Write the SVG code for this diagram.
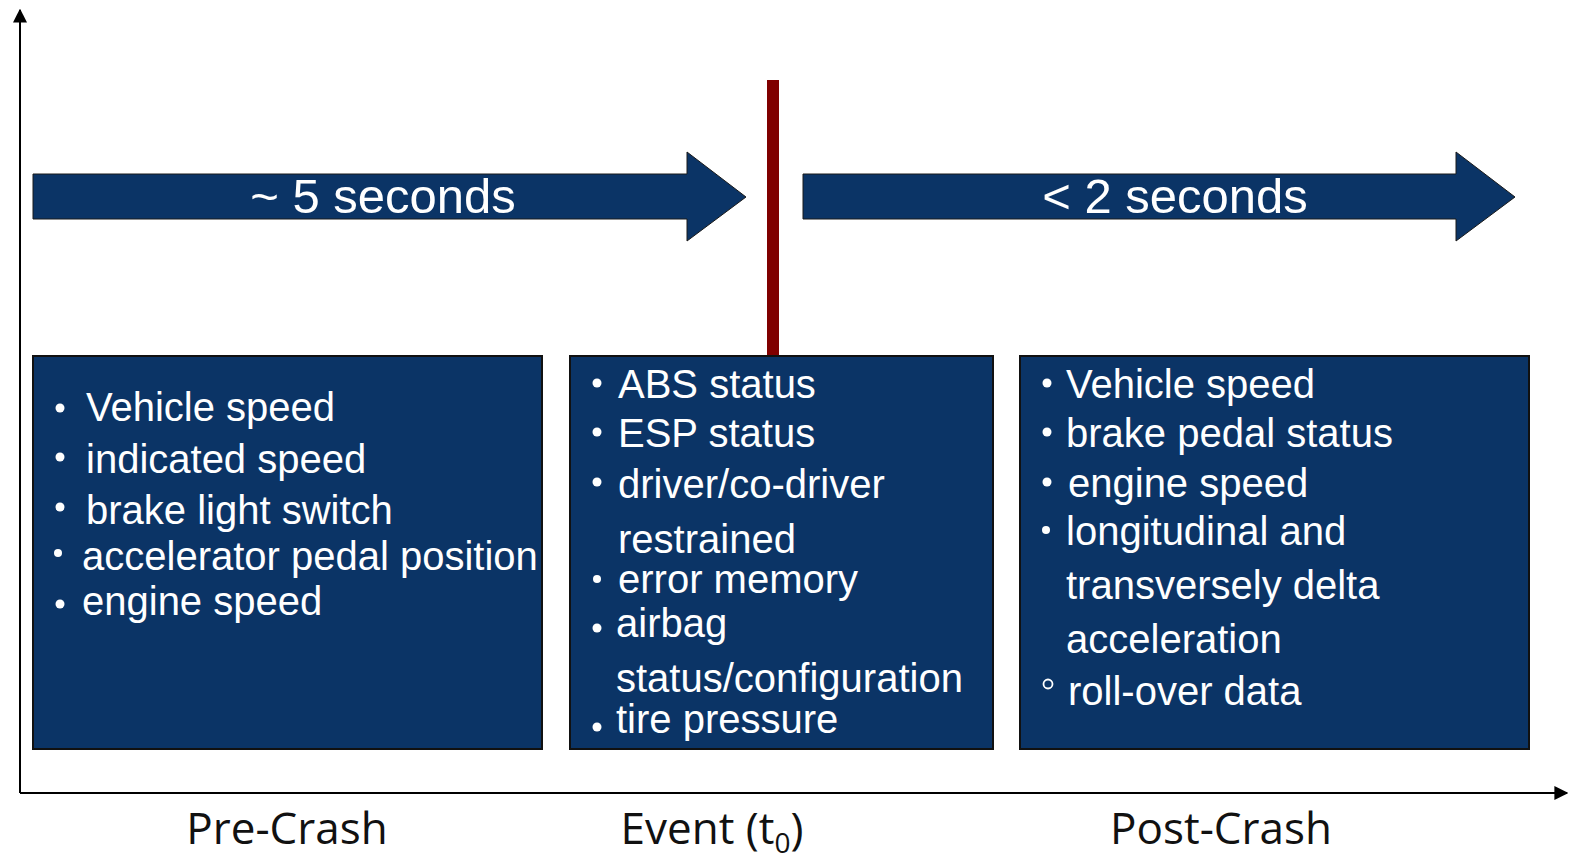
<svg xmlns="http://www.w3.org/2000/svg" width="1570" height="862" viewBox="0 0 1570 862">
<style>
.box{fill:#0b3466;stroke:#111;stroke-width:2}
.arr{fill:#0b3466;stroke:#1a1a1a;stroke-width:1}
.t{font-family:"Liberation Sans",Arial,sans-serif;font-size:40px;fill:#fff}
.big{font-family:"Liberation Sans",Arial,sans-serif;font-size:49px;fill:#fff;text-anchor:middle}
.lab{font-family:"Open Sans","DejaVu Sans",sans-serif;font-size:44px;fill:#111;text-anchor:middle}
.b{fill:#fff}
</style>
<defs>
<marker id="ah" viewBox="0 0 10 10" refX="9" refY="5" markerWidth="7" markerHeight="7" orient="auto-start-reverse" markerUnits="strokeWidth">
<path d="M0,0 L10,5 L0,10 z" fill="#000"/>
</marker>
</defs>
<rect width="1570" height="862" fill="#fff"/>
<g id="connectors">
<line x1="20" y1="793" x2="20" y2="10" stroke="#000" stroke-width="2" marker-end="url(#ah)"/>
<line x1="20" y1="793" x2="1567" y2="793" stroke="#000" stroke-width="2" marker-end="url(#ah)"/>
<rect x="767" y="80" width="12" height="277" fill="#800000"/>
</g>
<g id="arrow-pre">
<path class="arr" d="M33,174 L687,174 L687,152 L746,197 L687,241 L687,219 L33,219 Z"/>
<text class="big" x="383" y="213">~ 5 seconds</text>
</g>
<g id="arrow-post">
<path class="arr" d="M803,174 L1456,174 L1456,152 L1515,197 L1456,241 L1456,219 L803,219 Z"/>
<text class="big" x="1175" y="213">&lt; 2 seconds</text>
</g>
<g id="box-pre">
<rect class="box" x="33" y="356" width="509" height="393"/>
<circle class="b" cx="60" cy="408" r="4.5"/>
<circle class="b" cx="60" cy="457" r="4.5"/>
<circle class="b" cx="60" cy="507" r="4.5"/>
<circle class="b" cx="58" cy="553" r="4"/>
<circle class="b" cx="60" cy="604" r="4.5"/>
<text class="t" x="86" y="421">Vehicle speed</text>
<text class="t" x="86" y="473">indicated speed</text>
<text class="t" x="86" y="524">brake light switch</text>
<text class="t" x="82" y="570">accelerator pedal position</text>
<text class="t" x="82" y="615">engine speed</text>
</g>
<g id="box-event">
<rect class="box" x="570" y="356" width="423" height="393"/>
<circle class="b" cx="597" cy="383" r="4.5"/>
<circle class="b" cx="597" cy="432" r="4.5"/>
<circle class="b" cx="597" cy="482" r="4.5"/>
<circle class="b" cx="597" cy="579" r="4"/>
<circle class="b" cx="597" cy="628" r="4.5"/>
<circle class="b" cx="597" cy="727" r="4.5"/>
<text class="t" x="618" y="398">ABS status</text>
<text class="t" x="618" y="447">ESP status</text>
<text class="t" x="618" y="498">driver/co-driver</text>
<text class="t" x="618" y="553">restrained</text>
<text class="t" x="618" y="593">error memory</text>
<text class="t" x="616" y="637">airbag</text>
<text class="t" x="616" y="692">status/configuration</text>
<text class="t" x="616" y="733">tire pressure</text>
</g>
<g id="box-post">
<rect class="box" x="1020" y="356" width="509" height="393"/>
<circle class="b" cx="1047" cy="383" r="4.5"/>
<circle class="b" cx="1047" cy="432" r="4.5"/>
<circle class="b" cx="1047" cy="482" r="4.5"/>
<circle class="b" cx="1046" cy="530" r="4"/>
<circle cx="1048" cy="684" r="4.5" fill="none" stroke="#fff" stroke-width="1.8"/>
<text class="t" x="1066" y="398">Vehicle speed</text>
<text class="t" x="1066" y="447">brake pedal status</text>
<text class="t" x="1068" y="497">engine speed</text>
<text class="t" x="1066" y="545">longitudinal and</text>
<text class="t" x="1066" y="599">transversely delta</text>
<text class="t" x="1066" y="653">acceleration</text>
<text class="t" x="1068" y="705">roll-over data</text>
</g>
<g id="labels">
<text class="lab" x="287" y="844">Pre-Crash</text>
<text class="lab" x="712" y="844">Event (t<tspan font-size="28" dy="9">0</tspan><tspan dy="-9">)</tspan></text>
<text class="lab" x="1221" y="844">Post-Crash</text>
</g>
</svg>
